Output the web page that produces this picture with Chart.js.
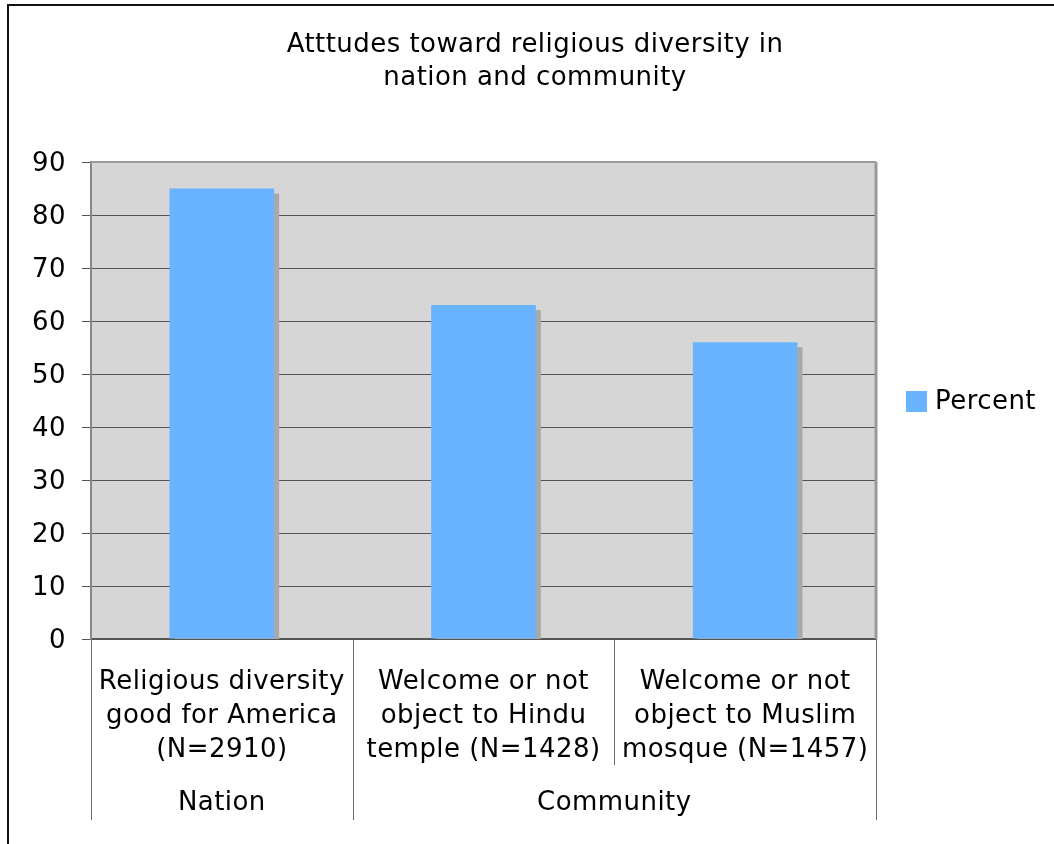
<!DOCTYPE html>
<html>
<head>
<meta charset="utf-8">
<script src="https://cdn.jsdelivr.net/npm/chart.js@4.4.0/dist/chart.umd.min.js"></script>
<style>
  html, body { margin: 0; padding: 0; background: #ffffff; }
  #wrap { width: 1054px; height: 844px; }
</style>
</head>
<body>
<div id="wrap"><canvas id="c" width="1054" height="844"></canvas></div>
<script>
const titleLines = ["Atttudes toward religious diversity in", "nation and community"];
const categories = [
  ["Religious diversity", "good for America", "(N=2910)"],
  ["Welcome or not", "object to Hindu", "temple (N=1428)"],
  ["Welcome or not", "object to Muslim", "mosque (N=1457)"]
];
const groups = ["Nation", "Community"];
const groupSpans = [1, 2];
const seriesName = "Percent";
const percent = [85, 63, 56];
const yMin = 0, yMax = 90, yStep = 10;

const FONT = "'DejaVu Sans', Verdana, sans-serif";
const BLUE = '#6ab4ff';
const SPACING = '0.45px';

const decor = {
  id: 'decor',
  beforeDraw(chart) {
    const { ctx, chartArea: a } = chart;
    ctx.letterSpacing = SPACING;
    ctx.save();
    ctx.fillStyle = '#d6d6d6';
    ctx.fillRect(a.left, a.top, a.right - a.left, a.bottom - a.top);
    ctx.restore();
  },
  beforeDatasetsDraw(chart) {
    const { ctx, chartArea: a } = chart;
    const meta = chart.getDatasetMeta(0);
    ctx.save();
    ctx.beginPath();
    ctx.rect(a.left, a.top, a.right - a.left, a.bottom - a.top);
    ctx.clip();
    ctx.fillStyle = '#a9a9a9';
    meta.data.forEach(bar => {
      const p = bar.getProps(['x', 'y', 'base', 'width'], true);
      ctx.fillRect(p.x - p.width / 2 + 5, p.y + 5, p.width, p.base - p.y);
    });
    ctx.restore();
  },
  afterDraw(chart) {
    const { ctx, chartArea: a } = chart;
    const xs = chart.scales.x;
    ctx.save();
    ctx.letterSpacing = SPACING;
    // plot frame top/right
    ctx.strokeStyle = '#9a9a9a';
    ctx.lineWidth = 2;
    ctx.beginPath();
    ctx.moveTo(a.left, a.top);
    ctx.lineTo(a.right, a.top);
    ctx.stroke();
    ctx.lineWidth = 3;
    ctx.beginPath();
    ctx.moveTo(a.right, a.top);
    ctx.lineTo(a.right, a.bottom);
    ctx.stroke();

    // category separators
    const n = categories.length;
    const boundary = i => {
      if (i === 0) return a.left;
      if (i === n) return a.right;
      return (xs.getPixelForValue(i - 1) + xs.getPixelForValue(i)) / 2;
    };
    const groupEdges = [0];
    groupSpans.forEach(s => groupEdges.push(groupEdges[groupEdges.length - 1] + s));
    ctx.strokeStyle = '#6a6a6a';
    ctx.lineWidth = 1;
    for (let i = 0; i <= n; i++) {
      const x = Math.round(boundary(i)) + 0.5;
      const long = groupEdges.includes(i);
      ctx.beginPath();
      ctx.moveTo(x, a.bottom);
      ctx.lineTo(x, long ? a.bottom + 181 : a.bottom + 126);
      ctx.stroke();
    }
    // group labels
    ctx.fillStyle = '#000';
    ctx.font = '26px ' + FONT;
    ctx.textAlign = 'center';
    ctx.textBaseline = 'middle';
    groups.forEach((g, k) => {
      const cx = (boundary(groupEdges[k]) + boundary(groupEdges[k + 1])) / 2;
      ctx.fillText(g, cx, a.bottom + 164);
    });

    // title
    ctx.fillText(titleLines[0], 535, 45);
    ctx.fillText(titleLines[1], 535, 78);

    // legend
    const ly = (a.top + a.bottom) / 2 + 1;
    ctx.fillStyle = BLUE;
    ctx.fillRect(906, ly - 10.5, 21, 21);
    ctx.fillStyle = '#000';
    ctx.textAlign = 'left';
    ctx.fillText(seriesName, 935, ly + 1);

    // outer frame
    ctx.strokeStyle = '#111';
    ctx.lineWidth = 2;
    ctx.beginPath();
    ctx.moveTo(8, 844);
    ctx.lineTo(8, 5);
    ctx.lineTo(1054, 5);
    ctx.stroke();
    ctx.restore();
  }
};

new Chart(document.getElementById('c'), {
  type: 'bar',
  data: {
    labels: categories,
    datasets: [{
      label: seriesName,
      data: percent,
      backgroundColor: BLUE,
      borderWidth: 0,
      categoryPercentage: 0.8,
      barPercentage: 0.5
    }]
  },
  options: {
    responsive: false,
    animation: false,
    devicePixelRatio: 1,
    layout: { padding: { left: 8, right: 178, top: 162, bottom: 0 } },
    plugins: {
      legend: { display: false },
      title: { display: false },
      tooltip: { enabled: false }
    },
    scales: {
      x: {
        offset: true,
        afterFit(s) { s.height = 205; },
        grid: { display: false, drawOnChartArea: false, drawTicks: false },
        border: { display: true, color: '#555', width: 1.5 },
        ticks: {
          color: '#000',
          font: { family: FONT, size: 26, lineHeight: '34px' },
          padding: 26,
          maxRotation: 0,
          autoSkip: false
        }
      },
      y: {
        min: yMin,
        max: yMax,
        afterFit(s) { s.width = 83; },
        afterBuildTicks(s) {
          const t = [];
          for (let v = yMin; v <= yMax; v += yStep) t.push({ value: v });
          s.ticks = t;
        },
        grid: {
          color: c => (c.tick && c.tick.value === yMax) ? 'rgba(0,0,0,0)' : '#555',
          tickColor: '#555',
          lineWidth: 1,
          tickLength: 9
        },
        border: { display: true, color: '#888', width: 2 },
        ticks: {
          stepSize: yStep,
          color: '#000',
          font: { family: FONT, size: 26 },
          padding: 16,
          labelOffset: 2
        }
      }
    }
  },
  plugins: [decor]
});
</script>
</body>
</html>
